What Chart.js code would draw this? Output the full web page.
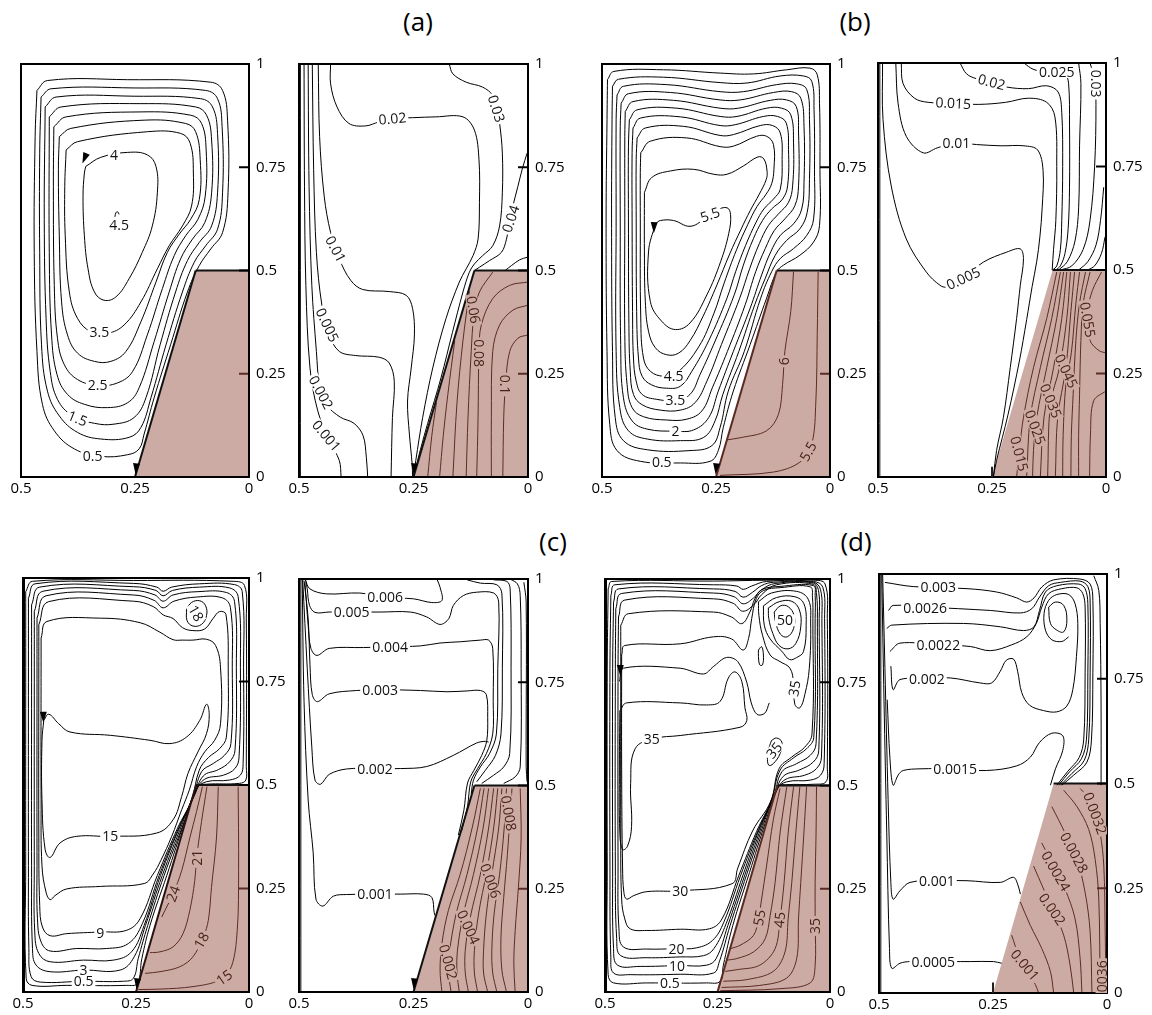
<!DOCTYPE html>
<html>
<head>
<meta charset="utf-8">
<script src="https://cdn.jsdelivr.net/npm/chart.js@4.4.1/dist/chart.umd.min.js"></script>
<style>
  html, body { margin: 0; padding: 0; background: #fff; }
  body { width: 1152px; height: 1015px; position: relative; overflow: hidden; font-family: 'Open Sans', sans-serif; }
  .tag { position: absolute; width: 60px; text-align: center; font-size: 26px; line-height: 30px; color: #000; }
</style>
</head>
<body>
<div class="tag" style="left:388px; top:6px;">(a)</div>
<div class="tag" style="left:825px; top:6px;">(b)</div>
<div class="tag" style="left:523px; top:526px;">(c)</div>
<div class="tag" style="left:826px; top:526px;">(d)</div>
<script>
// ---------- axes ----------
const X_TICKS = [0.5, 0.25, 0];
const X_TICK_LABELS = ['0.5', '0.25', '0'];
const Y_TICKS = [0, 0.25, 0.5, 0.75, 1];
const Y_TICK_LABELS = ['0', '0.25', '0.5', '0.75', '1'];
const Y_INNER_TICKS = [0.25, 0.5, 0.75];

// ---------- solid block (x, y pairs) ----------
const SOLID = [0.25,0, 0.117,0.5, 0,0.5, 0,0];
const SLOPE = [0.25,0, 0.117,0.5];
const TOP_EDGE = [0.117,0.5, 0,0.5];

// ---------- (a) left: streamlines ----------
const A1_LOOPS = [
  [0.465,0.936, 0.442,0.96, 0.266,0.962, 0.084,0.956, 0.058,0.936, 0.047,0.864, 0.046,0.688, 0.058,0.592, 0.084,0.552, 0.109,0.512, 0.135,0.448, 0.172,0.32, 0.208,0.192, 0.23,0.104, 0.241,0.068, 0.266,0.054, 0.325,0.05, 0.383,0.068, 0.427,0.112, 0.453,0.176, 0.465,0.304, 0.471,0.544, 0.469,0.824],
  [0.456,0.92, 0.434,0.94, 0.252,0.942, 0.095,0.936, 0.069,0.916, 0.059,0.848, 0.058,0.688, 0.069,0.6, 0.095,0.56, 0.12,0.52, 0.146,0.448, 0.182,0.32, 0.215,0.192, 0.237,0.12, 0.263,0.096, 0.325,0.092, 0.376,0.108, 0.416,0.148, 0.442,0.208, 0.455,0.32, 0.459,0.544, 0.459,0.784],
  [0.447,0.896, 0.423,0.92, 0.252,0.922, 0.106,0.916, 0.08,0.896, 0.069,0.832, 0.069,0.688, 0.082,0.608, 0.109,0.568, 0.135,0.524, 0.161,0.448, 0.195,0.32, 0.226,0.192, 0.252,0.144, 0.296,0.128, 0.339,0.13, 0.387,0.148, 0.42,0.188, 0.436,0.256, 0.445,0.384, 0.449,0.624],
  [0.438,0.872, 0.412,0.896, 0.237,0.904, 0.117,0.896, 0.093,0.876, 0.082,0.816, 0.082,0.688, 0.097,0.616, 0.124,0.576, 0.15,0.528, 0.175,0.448, 0.208,0.328, 0.241,0.216, 0.266,0.18, 0.31,0.168, 0.361,0.176, 0.398,0.2, 0.421,0.248, 0.433,0.344, 0.438,0.544],
  [0.428,0.848, 0.401,0.872, 0.237,0.884, 0.128,0.876, 0.104,0.856, 0.094,0.792, 0.096,0.68, 0.112,0.624, 0.139,0.584, 0.164,0.536, 0.19,0.456, 0.223,0.344, 0.255,0.256, 0.288,0.228, 0.332,0.222, 0.376,0.236, 0.405,0.272, 0.42,0.336, 0.427,0.464, 0.429,0.704],
  [0.416,0.824, 0.391,0.844, 0.23,0.864, 0.139,0.856, 0.117,0.836, 0.107,0.768, 0.109,0.672, 0.128,0.624, 0.153,0.588, 0.179,0.544, 0.204,0.472, 0.237,0.376, 0.27,0.304, 0.303,0.28, 0.339,0.28, 0.376,0.3, 0.398,0.344, 0.411,0.424, 0.416,0.584, 0.418,0.744],
  [0.401,0.792, 0.376,0.812, 0.223,0.836, 0.15,0.832, 0.129,0.808, 0.122,0.736, 0.126,0.656, 0.146,0.608, 0.175,0.56, 0.201,0.504, 0.237,0.424, 0.274,0.368, 0.31,0.348, 0.347,0.352, 0.376,0.384, 0.394,0.448, 0.403,0.584, 0.404,0.704],
  [0.358,0.752, 0.325,0.774, 0.266,0.786, 0.223,0.78, 0.204,0.752, 0.201,0.688, 0.212,0.608, 0.234,0.544, 0.263,0.48, 0.292,0.436, 0.318,0.428, 0.339,0.448, 0.353,0.504, 0.361,0.584, 0.364,0.68, 0.361,0.736]
];
const A1_LINES = [
  [0.294,0.63, 0.292,0.64, 0.288,0.642, 0.285,0.636]
];
const A1_LABELS = [['4',0.296,0.78,0], ['4.5',0.285,0.61,0], ['3.5',0.328,0.35,0], ['2.5',0.332,0.222,0], ['1.5',0.376,0.142,22], ['0.5',0.343,0.052,0]];
const A1_ARROWS = [[0.362,0.768,112], [0.248,0.016,95]];

// ---------- (a) right: concentration ----------
const A2_LINES = [
  [0.497,1, 0.497,0],
  [0.489,1, 0.488,0.704, 0.485,0.464, 0.476,0.264, 0.459,0.16, 0.434,0.088, 0.412,0.04, 0.408,0],
  [0.48,1, 0.478,0.704, 0.472,0.464, 0.462,0.304, 0.455,0.22, 0.44,0.175, 0.41,0.145, 0.38,0.13, 0.36,0.1, 0.353,0.048, 0.35,0],
  [0.471,1, 0.468,0.744, 0.462,0.544, 0.45,0.416, 0.434,0.344, 0.412,0.304, 0.376,0.294, 0.325,0.29, 0.303,0.276, 0.292,0.232, 0.296,0.144, 0.299,0],
  [0.458,1, 0.455,0.824, 0.445,0.68, 0.431,0.592, 0.412,0.528, 0.387,0.476, 0.361,0.454, 0.303,0.449, 0.266,0.44, 0.252,0.408, 0.248,0.344, 0.255,0.264, 0.263,0.184, 0.259,0.104, 0.253,0.032, 0.252,0],
  [0.431,1, 0.431,0.952, 0.417,0.896, 0.391,0.856, 0.355,0.85, 0.325,0.86, 0.296,0.868, 0.252,0.87, 0.201,0.872, 0.142,0.872, 0.117,0.84, 0.107,0.768, 0.106,0.664, 0.109,0.576, 0.12,0.536, 0.135,0.504, 0.15,0.472, 0.179,0.384, 0.208,0.264, 0.23,0.144, 0.245,0.04, 0.25,0],
  [0.172,1, 0.164,0.976, 0.135,0.956, 0.099,0.944, 0.077,0.924, 0.069,0.892, 0.062,0.856, 0.056,0.784, 0.056,0.688, 0.062,0.608, 0.077,0.56, 0.099,0.536, 0.117,0.516, 0.128,0.496, 0.142,0.448, 0.165,0.35, 0.19,0.24, 0.219,0.13, 0.234,0.07, 0.25,0],
  [0.002,0.784, 0.012,0.748, 0.022,0.704, 0.033,0.656, 0.04,0.62, 0.047,0.576, 0.058,0.544, 0.084,0.524, 0.106,0.508, 0.117,0.5],
  [0.002,0.532, 0.018,0.526, 0.036,0.512, 0.05,0.5]
];
const A2_SOLID = [
  [0.2,0.18, 0.21,0.1, 0.219,0],
  [0.16,0.33, 0.175,0.2, 0.185,0.1, 0.193,0],
  [0.128,0.45, 0.142,0.33, 0.155,0.18, 0.164,0],
  [0.077,0.496, 0.106,0.448, 0.118,0.392, 0.124,0.304, 0.131,0.144, 0.135,0],
  [0,0.472, 0.04,0.464, 0.077,0.432, 0.102,0.368, 0.107,0.304, 0.109,0.144, 0.112,0],
  [0,0.416, 0.033,0.404, 0.062,0.368, 0.077,0.304, 0.08,0.144, 0.08,0],
  [0,0.344, 0.022,0.336, 0.04,0.304, 0.049,0.224, 0.053,0.144, 0.055,0]
];
const A2_LABELS = [['0.02',0.296,0.868,-5], ['0.03',0.069,0.892,72], ['0.01',0.42,0.552,62], ['0.04',0.038,0.625,-72], ['0.005',0.438,0.368,65], ['0.002',0.452,0.205,62], ['0.001',0.44,0.1,50]];
const A2_SOLID_LABELS = [['0.06',0.119,0.405,80], ['0.08',0.107,0.3,90], ['0.1',0.051,0.224,90]];
const A2_ARROWS = [[0.249,0.016,95]];

// ---------- (b) left: streamlines ----------
const B1_LOOPS = [
  [0.488,0.962, 0.474,0.982, 0.365,0.986, 0.241,0.978, 0.168,0.976, 0.095,0.986, 0.044,0.99, 0.028,0.974, 0.023,0.905, 0.022,0.745, 0.023,0.609, 0.036,0.569, 0.066,0.537, 0.102,0.513, 0.117,0.497, 0.139,0.433, 0.175,0.321, 0.212,0.208, 0.234,0.12, 0.245,0.064, 0.263,0.038, 0.328,0.034, 0.416,0.038, 0.467,0.064, 0.483,0.128, 0.489,0.304, 0.491,0.625, 0.489,0.865],
  [0.477,0.946, 0.464,0.963, 0.365,0.968, 0.241,0.955, 0.182,0.954, 0.109,0.971, 0.058,0.971, 0.04,0.958, 0.035,0.889, 0.034,0.745, 0.036,0.625, 0.051,0.585, 0.08,0.553, 0.109,0.529, 0.128,0.497, 0.152,0.433, 0.188,0.304, 0.223,0.208, 0.241,0.12, 0.259,0.076, 0.307,0.064, 0.401,0.066, 0.453,0.088, 0.471,0.144, 0.477,0.304, 0.479,0.625, 0.478,0.865],
  [0.467,0.925, 0.453,0.946, 0.358,0.95, 0.241,0.933, 0.19,0.933, 0.117,0.95, 0.073,0.952, 0.051,0.938, 0.045,0.865, 0.045,0.721, 0.05,0.641, 0.066,0.601, 0.095,0.573, 0.12,0.537, 0.142,0.481, 0.165,0.417, 0.2,0.304, 0.235,0.2, 0.252,0.136, 0.277,0.096, 0.328,0.088, 0.401,0.092, 0.442,0.112, 0.461,0.168, 0.469,0.304, 0.469,0.625, 0.469,0.865],
  [0.458,0.905, 0.442,0.928, 0.35,0.931, 0.241,0.913, 0.197,0.913, 0.124,0.931, 0.084,0.933, 0.064,0.917, 0.057,0.849, 0.057,0.713, 0.062,0.649, 0.08,0.613, 0.109,0.585, 0.13,0.545, 0.15,0.489, 0.175,0.409, 0.212,0.304, 0.245,0.208, 0.266,0.144, 0.299,0.114, 0.339,0.111, 0.401,0.116, 0.434,0.136, 0.453,0.192, 0.459,0.321, 0.46,0.625, 0.46,0.849],
  [0.449,0.885, 0.432,0.909, 0.343,0.912, 0.241,0.893, 0.201,0.893, 0.131,0.912, 0.095,0.913, 0.074,0.897, 0.069,0.833, 0.069,0.705, 0.077,0.657, 0.099,0.625, 0.122,0.597, 0.142,0.553, 0.163,0.497, 0.186,0.417, 0.225,0.304, 0.258,0.216, 0.281,0.16, 0.314,0.14, 0.358,0.138, 0.409,0.146, 0.434,0.168, 0.445,0.224, 0.45,0.345, 0.45,0.625, 0.45,0.825],
  [0.44,0.865, 0.423,0.889, 0.336,0.893, 0.241,0.873, 0.204,0.873, 0.139,0.893, 0.106,0.893, 0.086,0.877, 0.08,0.809, 0.082,0.705, 0.091,0.665, 0.113,0.637, 0.135,0.609, 0.155,0.565, 0.176,0.505, 0.198,0.433, 0.238,0.321, 0.27,0.232, 0.296,0.18, 0.328,0.162, 0.372,0.162, 0.412,0.175, 0.431,0.2, 0.438,0.256, 0.441,0.369, 0.442,0.625, 0.442,0.801],
  [0.432,0.845, 0.416,0.869, 0.328,0.872, 0.241,0.851, 0.208,0.853, 0.146,0.873, 0.115,0.873, 0.096,0.857, 0.091,0.793, 0.093,0.705, 0.104,0.673, 0.128,0.649, 0.148,0.621, 0.168,0.577, 0.19,0.513, 0.21,0.441, 0.252,0.329, 0.285,0.248, 0.307,0.2, 0.339,0.186, 0.38,0.188, 0.412,0.2, 0.425,0.232, 0.431,0.288, 0.433,0.401, 0.434,0.625, 0.434,0.785],
  [0.423,0.821, 0.405,0.845, 0.321,0.849, 0.241,0.827, 0.212,0.829, 0.153,0.851, 0.126,0.851, 0.109,0.833, 0.105,0.769, 0.109,0.697, 0.124,0.673, 0.145,0.649, 0.162,0.617, 0.185,0.561, 0.207,0.497, 0.226,0.433, 0.266,0.33, 0.303,0.256, 0.328,0.22, 0.358,0.215, 0.391,0.223, 0.412,0.244, 0.42,0.288, 0.424,0.401, 0.425,0.625, 0.425,0.769],
  [0.415,0.785, 0.394,0.813, 0.314,0.821, 0.241,0.8, 0.212,0.801, 0.161,0.825, 0.139,0.825, 0.124,0.805, 0.123,0.745, 0.128,0.71, 0.14,0.685, 0.16,0.655, 0.18,0.612, 0.205,0.55, 0.232,0.47, 0.255,0.395, 0.288,0.315, 0.336,0.252, 0.365,0.244, 0.394,0.256, 0.409,0.288, 0.415,0.385, 0.416,0.625, 0.416,0.737],
  [0.407,0.689, 0.391,0.725, 0.35,0.741, 0.299,0.745, 0.255,0.733, 0.226,0.733, 0.19,0.753, 0.158,0.775, 0.145,0.77, 0.138,0.74, 0.14,0.72, 0.155,0.685, 0.175,0.645, 0.195,0.6, 0.22,0.54, 0.248,0.465, 0.278,0.39, 0.307,0.33, 0.332,0.3, 0.358,0.296, 0.383,0.313, 0.398,0.353, 0.405,0.425, 0.407,0.545],
  [0.383,0.613, 0.398,0.545, 0.394,0.425, 0.369,0.377, 0.339,0.357, 0.307,0.373, 0.27,0.441, 0.24,0.521, 0.222,0.59, 0.218,0.635, 0.226,0.652, 0.25,0.645, 0.275,0.625, 0.307,0.607, 0.343,0.621, 0.372,0.621]
];
const B1_SOLID = [
  [0.08,0.497, 0.086,0.401, 0.099,0.304, 0.104,0.224, 0.113,0.152, 0.139,0.112, 0.197,0.095, 0.226,0.09],
  [0.026,0.497, 0.028,0.345, 0.031,0.184, 0.04,0.08, 0.066,0.036, 0.124,0.012, 0.241,0.004]
];
const B1_LABELS = [['5.5',0.263,0.635,-20], ['4.5',0.343,0.244,0], ['3.5',0.339,0.187,0], ['2',0.339,0.112,0], ['0.5',0.369,0.036,0]];
const B1_SOLID_LABELS = [['6',0.1,0.28,-90], ['5.5',0.048,0.062,-60]];
const B1_ARROWS = [[0.386,0.6,92], [0.25,0.016,95]];

// ---------- (b) right: concentration ----------
const B2_LINES = [
  [0.496,1, 0.496,0],
  [0.49,1, 0.489,0.863, 0.471,0.703, 0.438,0.575, 0.394,0.495, 0.364,0.463, 0.35,0.459, 0.313,0.48, 0.269,0.519, 0.218,0.543, 0.188,0.551, 0.181,0.527, 0.188,0.463, 0.196,0.383, 0.21,0.264, 0.225,0.144, 0.24,0.064, 0.247,0],
  [0.461,1, 0.456,0.903, 0.438,0.823, 0.401,0.783, 0.37,0.795, 0.328,0.807, 0.284,0.803, 0.23,0.8, 0.18,0.8, 0.15,0.79, 0.138,0.74, 0.14,0.65, 0.145,0.58, 0.152,0.52, 0.162,0.46, 0.174,0.38, 0.19,0.28, 0.215,0.15, 0.24,0.04, 0.247,0],
  [0.449,1, 0.445,0.95, 0.42,0.915, 0.39,0.905, 0.335,0.903, 0.28,0.9, 0.22,0.905, 0.17,0.915, 0.13,0.905, 0.112,0.87, 0.108,0.75, 0.11,0.62, 0.115,0.55, 0.118,0.5],
  [0.32,1, 0.306,0.974, 0.284,0.962, 0.251,0.954, 0.218,0.942, 0.17,0.938, 0.13,0.945, 0.105,0.93, 0.097,0.88, 0.095,0.75, 0.097,0.62, 0.1,0.55, 0.108,0.51, 0.117,0.5],
  [0.18,1, 0.16,0.985, 0.13,0.978, 0.108,0.978, 0.09,0.975, 0.082,0.95, 0.08,0.85, 0.08,0.7, 0.083,0.6, 0.09,0.54, 0.1,0.51, 0.11,0.5],
  [0.06,1, 0.055,0.95, 0.058,0.8, 0.06,0.65, 0.068,0.57, 0.085,0.52, 0.104,0.5],
  [0.035,1, 0.025,0.96, 0.022,0.9, 0.025,0.75, 0.035,0.62, 0.05,0.55, 0.075,0.51, 0.1,0.5],
  [0.005,0.7, 0.012,0.62, 0.022,0.56, 0.04,0.52, 0.06,0.5],
  [0.002,0.58, 0.01,0.54, 0.025,0.51, 0.04,0.5]
];
const B2_SOLID = [
  [0.108,0.495, 0.13,0.383, 0.159,0.264, 0.181,0.144, 0.19,0.064, 0.196,0],
  [0.1,0.495, 0.119,0.383, 0.144,0.264, 0.166,0.144, 0.174,0],
  [0.093,0.495, 0.108,0.383, 0.13,0.264, 0.152,0.144, 0.159,0.064, 0.161,0],
  [0.086,0.495, 0.097,0.383, 0.115,0.264, 0.136,0.144, 0.144,0],
  [0.078,0.495, 0.086,0.383, 0.102,0.264, 0.122,0.176, 0.128,0],
  [0.069,0.495, 0.077,0.4, 0.088,0.264, 0.106,0.144, 0.111,0],
  [0.058,0.495, 0.066,0.42, 0.076,0.3, 0.088,0.224, 0.094,0.1, 0.095,0],
  [0.045,0.495, 0.058,0.42, 0.066,0.33, 0.072,0.2, 0.076,0.1, 0.077,0],
  [0.035,0.495, 0.05,0.42, 0.055,0.33, 0.058,0.2, 0.06,0.1, 0.06,0],
  [0.01,0.495, 0.03,0.45, 0.04,0.4, 0.035,0.33, 0.015,0.305, 0,0.3],
  [0,0.208, 0.027,0.184, 0.034,0.104, 0.036,0]
];
const B2_LABELS = [['0.02',0.251,0.954,15], ['0.025',0.108,0.978,0], ['0.03',0.023,0.95,90], ['0.015',0.335,0.903,3], ['0.01',0.328,0.807,0], ['0.005',0.313,0.48,-25]];
const B2_SOLID_LABELS = [['0.055',0.04,0.38,80], ['0.045',0.087,0.256,65], ['0.035',0.121,0.184,68], ['0.025',0.155,0.12,70], ['0.015',0.19,0.056,75]];
const B2_ARROWS = [];

// ---------- (c) left: streamlines ----------
const C1_LOOPS = [
  [0.494,0.967, 0.479,0.992, 0.256,0.994, 0.035,0.992, 0.01,0.982, 0.006,0.903, 0.006,0.544, 0.007,0.512, 0.021,0.504, 0.094,0.502, 0.113,0.497, 0.141,0.416, 0.182,0.281, 0.219,0.161, 0.237,0.081, 0.247,0.021, 0.271,0.016, 0.403,0.016, 0.48,0.016, 0.493,0.033, 0.494,0.305, 0.494,0.783],
  [0.488,0.951, 0.473,0.986, 0.256,0.987, 0.204,0.978, 0.19,0.968, 0.171,0.978, 0.109,0.986, 0.032,0.984, 0.015,0.967, 0.012,0.783, 0.013,0.552, 0.019,0.524, 0.043,0.512, 0.094,0.508, 0.116,0.49, 0.143,0.412, 0.188,0.281, 0.224,0.161, 0.245,0.081, 0.256,0.033, 0.278,0.026, 0.366,0.026, 0.462,0.024, 0.482,0.037, 0.487,0.105, 0.488,0.305, 0.488,0.783],
  [0.481,0.935, 0.463,0.978, 0.256,0.979, 0.206,0.97, 0.19,0.957, 0.169,0.97, 0.109,0.978, 0.043,0.976, 0.024,0.955, 0.019,0.783, 0.022,0.568, 0.031,0.54, 0.056,0.524, 0.098,0.514, 0.119,0.482, 0.147,0.408, 0.192,0.281, 0.229,0.161, 0.254,0.085, 0.285,0.053, 0.366,0.053, 0.44,0.049, 0.471,0.065, 0.479,0.105, 0.481,0.305, 0.481,0.783],
  [0.475,0.919, 0.456,0.968, 0.256,0.97, 0.208,0.959, 0.19,0.944, 0.168,0.959, 0.113,0.967, 0.05,0.965, 0.032,0.943, 0.028,0.783, 0.031,0.584, 0.043,0.556, 0.068,0.537, 0.101,0.522, 0.121,0.474, 0.151,0.404, 0.196,0.281, 0.232,0.161, 0.26,0.097, 0.3,0.077, 0.366,0.077, 0.44,0.073, 0.465,0.093, 0.474,0.145, 0.475,0.305, 0.475,0.783],
  [0.469,0.903, 0.449,0.957, 0.256,0.959, 0.21,0.946, 0.19,0.928, 0.166,0.944, 0.116,0.954, 0.059,0.952, 0.041,0.928, 0.037,0.783, 0.04,0.6, 0.054,0.572, 0.079,0.552, 0.105,0.532, 0.124,0.468, 0.154,0.4, 0.199,0.281, 0.236,0.165, 0.267,0.117, 0.315,0.105, 0.381,0.105, 0.44,0.099, 0.46,0.121, 0.468,0.177, 0.469,0.305, 0.469,0.783],
  [0.465,0.887, 0.443,0.943, 0.256,0.944, 0.212,0.931, 0.19,0.911, 0.168,0.902, 0.147,0.88, 0.124,0.873, 0.098,0.877, 0.079,0.903, 0.065,0.919, 0.051,0.912, 0.046,0.783, 0.05,0.616, 0.065,0.588, 0.09,0.566, 0.11,0.536, 0.127,0.464, 0.158,0.396, 0.203,0.281, 0.241,0.177, 0.271,0.149, 0.329,0.145, 0.403,0.141, 0.44,0.136, 0.457,0.157, 0.463,0.209, 0.465,0.384, 0.465,0.783],
  [0.46,0.855, 0.447,0.895, 0.329,0.903, 0.241,0.892, 0.197,0.869, 0.168,0.851, 0.147,0.85, 0.124,0.85, 0.094,0.852, 0.074,0.837, 0.063,0.783, 0.063,0.648, 0.076,0.608, 0.098,0.58, 0.116,0.544, 0.132,0.488, 0.149,0.44, 0.171,0.376, 0.195,0.318, 0.212,0.285, 0.232,0.262, 0.329,0.255, 0.403,0.249, 0.429,0.233, 0.44,0.223, 0.449,0.241, 0.458,0.305, 0.46,0.464, 0.46,0.783],
  [0.454,0.656, 0.443,0.671, 0.421,0.648, 0.396,0.628, 0.307,0.62, 0.219,0.608, 0.175,0.6, 0.138,0.616, 0.109,0.656, 0.094,0.695, 0.088,0.671, 0.094,0.624, 0.113,0.58, 0.135,0.528, 0.149,0.472, 0.168,0.416, 0.204,0.384, 0.307,0.376, 0.381,0.376, 0.418,0.36, 0.44,0.325, 0.451,0.344, 0.458,0.464, 0.458,0.608],
  [0.138,0.925, 0.127,0.941, 0.109,0.945, 0.096,0.933, 0.094,0.909, 0.105,0.888, 0.124,0.884, 0.137,0.897]
];
const C1_LINES = [
  [0.497,1, 0.497,0]
];
const C1_SOLID = [
  [0.103,0.496, 0.116,0.436, 0.131,0.372, 0.149,0.293, 0.168,0.237, 0.186,0.197, 0.193,0.181],
  [0.093,0.496, 0.105,0.412, 0.113,0.35, 0.116,0.324, 0.12,0.269, 0.131,0.197, 0.146,0.141, 0.168,0.109, 0.197,0.097, 0.219,0.095],
  [0.068,0.496, 0.072,0.372, 0.083,0.253, 0.09,0.173, 0.101,0.133, 0.124,0.085, 0.153,0.061, 0.197,0.049, 0.23,0.045],
  [0.024,0.496, 0.023,0.293, 0.026,0.149, 0.039,0.061, 0.065,0.029, 0.124,0.013, 0.197,0.007, 0.245,0.006]
];
const C1_LABELS = [['18',0.117,0.915,60], ['15',0.307,0.376,0], ['9',0.329,0.143,0], ['3',0.366,0.053,0], ['0.5',0.366,0.026,0]];
const C1_SOLID_LABELS = [['21',0.115,0.324,-90], ['24',0.168,0.237,-70], ['18',0.105,0.125,-60], ['15',0.055,0.035,-35]];
const C1_ARROWS = [[0.455,0.66,90], [0.248,0.016,95]];

// ---------- (c) right: concentration ----------
const C2_LINES = [
  [0.496,1, 0.496,0],
  [0.493,1, 0.489,0.704, 0.48,0.465, 0.469,0.337, 0.463,0.225, 0.448,0.208, 0.425,0.232, 0.396,0.236, 0.334,0.237, 0.279,0.237, 0.228,0.237, 0.21,0.229, 0.205,0.193, 0.203,0.185],
  [0.492,1, 0.482,0.784, 0.472,0.593, 0.465,0.513, 0.453,0.503, 0.434,0.527, 0.396,0.54, 0.334,0.541, 0.279,0.541, 0.221,0.546, 0.163,0.573, 0.112,0.603, 0.093,0.607, 0.086,0.605],
  [0.489,0.996, 0.48,0.904, 0.476,0.792, 0.471,0.72, 0.46,0.703, 0.434,0.722, 0.374,0.73, 0.323,0.732, 0.235,0.73, 0.177,0.727, 0.133,0.729, 0.104,0.73, 0.091,0.72, 0.088,0.665, 0.09,0.609, 0.101,0.573, 0.118,0.537, 0.132,0.506, 0.14,0.44, 0.152,0.38],
  [0.487,0.992, 0.48,0.888, 0.474,0.832, 0.461,0.815, 0.434,0.832, 0.359,0.834, 0.301,0.836, 0.235,0.838, 0.192,0.845, 0.148,0.848, 0.104,0.852, 0.086,0.852, 0.077,0.832, 0.076,0.704, 0.077,0.625, 0.091,0.577, 0.11,0.541, 0.125,0.509, 0.132,0.45, 0.145,0.39],
  [0.485,0.996, 0.482,0.976, 0.477,0.936, 0.465,0.919, 0.434,0.92, 0.385,0.92, 0.323,0.92, 0.257,0.92, 0.221,0.908, 0.192,0.89, 0.173,0.904, 0.163,0.936, 0.141,0.96, 0.112,0.968, 0.075,0.966, 0.064,0.944, 0.066,0.784, 0.069,0.625, 0.084,0.577, 0.104,0.545, 0.119,0.513, 0.124,0.48],
  [0.487,1, 0.476,0.976, 0.44,0.964, 0.367,0.966, 0.308,0.955, 0.25,0.952, 0.21,0.943, 0.188,0.948, 0.192,0.98, 0.199,1],
  [0.133,0.998, 0.104,0.99, 0.068,0.986, 0.057,0.964, 0.056,0.784, 0.059,0.625, 0.071,0.573, 0.093,0.537, 0.112,0.509],
  [0.075,0.998, 0.046,0.994, 0.039,0.976, 0.037,0.784, 0.04,0.577, 0.053,0.545, 0.075,0.525, 0.101,0.505],
  [0.039,1, 0.023,0.988, 0.017,0.96, 0.015,0.784, 0.017,0.545, 0.028,0.521, 0.053,0.505],
  [0.009,0.992, 0.004,0.944, 0.004,0.545, 0.002,0.509]
];
const C2_SOLID = [
  [0.104,0.493, 0.122,0.397, 0.148,0.285, 0.174,0.197, 0.188,0.117, 0.192,0.053, 0.188,0],
  [0.096,0.493, 0.11,0.397, 0.133,0.285, 0.157,0.189, 0.171,0.101, 0.174,0.053, 0.168,0],
  [0.086,0.493, 0.098,0.397, 0.119,0.285, 0.141,0.189, 0.154,0.101, 0.155,0.046, 0.15,0],
  [0.075,0.493, 0.086,0.397, 0.104,0.285, 0.126,0.181, 0.137,0.101, 0.137,0.046, 0.13,0],
  [0.066,0.493, 0.075,0.397, 0.09,0.293, 0.108,0.189, 0.117,0.101, 0.117,0.046, 0.11,0],
  [0.057,0.493, 0.064,0.397, 0.079,0.285, 0.091,0.189, 0.097,0.101, 0.097,0.046, 0.088,0],
  [0.047,0.493, 0.052,0.397, 0.062,0.285, 0.074,0.189, 0.079,0.101, 0.077,0.046, 0.068,0],
  [0.035,0.493, 0.039,0.429, 0.045,0.333, 0.053,0.229, 0.059,0.133, 0.057,0.053, 0.047,0],
  [0.017,0.493, 0.015,0.373, 0.021,0.253, 0.028,0.149, 0.031,0.069, 0.028,0]
];
const C2_LABELS = [['0.006',0.312,0.956,0], ['0.005',0.385,0.92,0], ['0.004',0.301,0.836,0], ['0.003',0.323,0.732,0], ['0.002',0.334,0.541,0], ['0.001',0.334,0.237,0]];
const C2_SOLID_LABELS = [['0.008',0.042,0.433,80], ['0.006',0.082,0.269,70], ['0.004',0.13,0.157,65], ['0.002',0.174,0.073,75]];
const C2_ARROWS = [[0.249,0.016,95]];

// ---------- (d) left: streamlines ----------
const D1_LOOPS = [
  [0.493,0.976, 0.485,0.994, 0.259,0.995, 0.141,0.997, 0.037,0.997, 0.011,0.988, 0.006,0.904, 0.006,0.545, 0.009,0.509, 0.037,0.503, 0.096,0.502, 0.115,0.497, 0.144,0.409, 0.179,0.289, 0.216,0.161, 0.237,0.065, 0.244,0.026, 0.274,0.022, 0.407,0.022, 0.481,0.022, 0.493,0.042, 0.495,0.305, 0.495,0.784],
  [0.487,0.96, 0.478,0.986, 0.259,0.986, 0.207,0.983, 0.193,0.975, 0.174,0.983, 0.141,0.994, 0.037,0.994, 0.016,0.98, 0.012,0.904, 0.013,0.553, 0.021,0.525, 0.044,0.513, 0.096,0.509, 0.119,0.49, 0.148,0.405, 0.185,0.285, 0.222,0.161, 0.246,0.073, 0.259,0.046, 0.333,0.043, 0.444,0.042, 0.481,0.046, 0.487,0.083, 0.489,0.305, 0.489,0.784],
  [0.481,0.944, 0.47,0.976, 0.259,0.976, 0.211,0.97, 0.193,0.956, 0.172,0.968, 0.152,0.984, 0.126,0.992, 0.037,0.992, 0.021,0.974, 0.018,0.904, 0.019,0.569, 0.03,0.541, 0.056,0.525, 0.1,0.514, 0.121,0.482, 0.152,0.401, 0.19,0.281, 0.227,0.161, 0.253,0.081, 0.274,0.065, 0.333,0.064, 0.422,0.062, 0.472,0.065, 0.481,0.105, 0.483,0.305, 0.483,0.784],
  [0.476,0.928, 0.463,0.965, 0.259,0.966, 0.213,0.957, 0.193,0.94, 0.17,0.954, 0.152,0.974, 0.122,0.989, 0.037,0.99, 0.025,0.968, 0.024,0.904, 0.025,0.585, 0.037,0.557, 0.067,0.538, 0.104,0.522, 0.124,0.474, 0.156,0.397, 0.194,0.281, 0.231,0.165, 0.258,0.105, 0.281,0.088, 0.333,0.085, 0.407,0.083, 0.465,0.088, 0.474,0.129, 0.477,0.305, 0.477,0.784],
  [0.47,0.908, 0.456,0.949, 0.259,0.952, 0.215,0.941, 0.194,0.922, 0.169,0.938, 0.152,0.962, 0.119,0.986, 0.037,0.987, 0.03,0.964, 0.028,0.904, 0.031,0.601, 0.044,0.573, 0.074,0.553, 0.107,0.533, 0.126,0.469, 0.159,0.393, 0.199,0.281, 0.236,0.169, 0.261,0.125, 0.296,0.107, 0.341,0.105, 0.407,0.104, 0.459,0.109, 0.469,0.153, 0.471,0.305, 0.471,0.784],
  [0.465,0.888, 0.448,0.916, 0.259,0.92, 0.219,0.908, 0.196,0.892, 0.178,0.92, 0.167,0.952, 0.152,0.974, 0.111,0.982, 0.037,0.984, 0.033,0.96, 0.033,0.904, 0.036,0.617, 0.052,0.589, 0.081,0.567, 0.111,0.537, 0.13,0.465, 0.163,0.389, 0.203,0.281, 0.24,0.177, 0.268,0.153, 0.333,0.152, 0.407,0.149, 0.444,0.153, 0.456,0.177, 0.463,0.225, 0.465,0.385, 0.465,0.784],
  [0.463,0.816, 0.456,0.839, 0.333,0.843, 0.259,0.86, 0.219,0.855, 0.193,0.828, 0.181,0.856, 0.174,0.904, 0.164,0.952, 0.148,0.972, 0.111,0.979, 0.044,0.981, 0.039,0.956, 0.038,0.904, 0.04,0.625, 0.056,0.593, 0.085,0.569, 0.113,0.541, 0.132,0.461, 0.172,0.39, 0.205,0.3, 0.218,0.262, 0.333,0.245, 0.407,0.243, 0.437,0.233, 0.452,0.225, 0.458,0.241, 0.461,0.305, 0.463,0.545],
  [0.467,0.681, 0.452,0.7, 0.333,0.7, 0.274,0.695, 0.244,0.704, 0.226,0.76, 0.211,0.775, 0.196,0.752, 0.189,0.688, 0.185,0.657, 0.2,0.641, 0.333,0.621, 0.393,0.613, 0.433,0.589, 0.443,0.505, 0.441,0.401, 0.45,0.353, 0.461,0.345, 0.467,0.385, 0.468,0.545],
  [0.159,0.945, 0.13,0.966, 0.074,0.97, 0.048,0.95, 0.043,0.896, 0.046,0.784, 0.056,0.72, 0.067,0.688, 0.078,0.696, 0.081,0.748, 0.089,0.784, 0.111,0.8, 0.133,0.816, 0.15,0.864, 0.158,0.912],
  [0.148,0.935, 0.119,0.955, 0.078,0.957, 0.058,0.94, 0.053,0.888, 0.059,0.824, 0.074,0.81, 0.09,0.805, 0.107,0.825, 0.133,0.855, 0.146,0.888],
  [0.137,0.93, 0.113,0.945, 0.085,0.946, 0.068,0.925, 0.065,0.884, 0.076,0.844, 0.093,0.831, 0.113,0.839, 0.127,0.868, 0.136,0.904],
  [0.124,0.92, 0.11,0.935, 0.093,0.933, 0.08,0.912, 0.081,0.88, 0.095,0.86, 0.11,0.866, 0.121,0.896],
  [0.159,0.828, 0.152,0.836, 0.148,0.816, 0.15,0.792, 0.156,0.792, 0.159,0.812],
  [0.13,0.609, 0.119,0.615, 0.107,0.605, 0.111,0.577, 0.126,0.553, 0.136,0.549, 0.139,0.569, 0.135,0.593]
];
const D1_LINES = [
  [0.497,1, 0.497,0],
  [0.468,0.752, 0.459,0.784, 0.333,0.784, 0.281,0.77, 0.259,0.788, 0.23,0.81, 0.205,0.8, 0.185,0.75, 0.175,0.7, 0.162,0.672, 0.145,0.675, 0.135,0.7]
];
const D1_SOLID = [
  [0.111,0.493, 0.126,0.417, 0.141,0.305, 0.152,0.225, 0.159,0.177, 0.17,0.137, 0.2,0.113, 0.221,0.105],
  [0.096,0.497, 0.111,0.385, 0.122,0.265, 0.133,0.185, 0.144,0.129, 0.17,0.097, 0.207,0.081, 0.23,0.077],
  [0.081,0.497, 0.093,0.385, 0.102,0.265, 0.111,0.177, 0.122,0.105, 0.156,0.065, 0.207,0.054, 0.233,0.05],
  [0.067,0.497, 0.076,0.385, 0.085,0.265, 0.093,0.177, 0.1,0.097, 0.126,0.05, 0.185,0.03, 0.237,0.026],
  [0.052,0.497, 0.058,0.385, 0.065,0.265, 0.07,0.177, 0.074,0.081, 0.096,0.034, 0.156,0.016, 0.241,0.011],
  [0.03,0.497, 0.031,0.385, 0.033,0.265, 0.033,0.165, 0.033,0.065, 0.044,0.022, 0.111,0.008, 0.244,0.003]
];
const D1_LABELS = [['50',0.1,0.9,0], ['35',0.079,0.735,-80], ['35',0.124,0.585,-50], ['35',0.396,0.613,0], ['30',0.333,0.245,0], ['20',0.341,0.105,0], ['10',0.34,0.064,0], ['0.5',0.356,0.022,0]];
const D1_SOLID_LABELS = [['55',0.157,0.18,-80], ['45',0.112,0.175,-85], ['35',0.033,0.16,-90]];
const D1_ARROWS = [[0.466,0.775,90]];

// ---------- (d) right: concentration ----------
const D2_LINES = [
  [0.496,1, 0.496,0],
  [0.487,0.98, 0.425,0.97, 0.307,0.965, 0.242,0.957, 0.198,0.943, 0.176,0.933, 0.16,0.943, 0.143,0.969, 0.117,0.986, 0.059,0.988, 0.037,0.976, 0.031,0.937, 0.031,0.764, 0.034,0.606, 0.044,0.551, 0.073,0.52, 0.099,0.496],
  [0.479,0.913, 0.469,0.925, 0.395,0.921, 0.256,0.913, 0.19,0.907, 0.165,0.917, 0.148,0.945, 0.128,0.972, 0.102,0.98, 0.059,0.983, 0.042,0.97, 0.037,0.933, 0.037,0.764, 0.04,0.606, 0.05,0.555, 0.077,0.524, 0.102,0.496],
  [0.483,0.87, 0.472,0.878, 0.315,0.882, 0.234,0.874, 0.183,0.865, 0.16,0.874, 0.148,0.913, 0.135,0.957, 0.11,0.972, 0.062,0.976, 0.048,0.965, 0.042,0.929, 0.042,0.764, 0.045,0.606, 0.056,0.559, 0.082,0.528, 0.106,0.496],
  [0.476,0.815, 0.454,0.835, 0.37,0.831, 0.3,0.827, 0.256,0.817, 0.209,0.831, 0.176,0.85, 0.155,0.882, 0.143,0.921, 0.128,0.953, 0.099,0.965, 0.066,0.967, 0.053,0.953, 0.048,0.921, 0.048,0.764, 0.051,0.606, 0.061,0.562, 0.086,0.529, 0.11,0.496],
  [0.474,0.78, 0.469,0.724, 0.454,0.748, 0.395,0.75, 0.344,0.752, 0.278,0.74, 0.253,0.74, 0.234,0.768, 0.221,0.794, 0.205,0.797, 0.196,0.768, 0.187,0.717, 0.17,0.687, 0.139,0.674, 0.11,0.671, 0.088,0.685, 0.075,0.724, 0.067,0.803, 0.064,0.882, 0.07,0.929, 0.084,0.951, 0.11,0.951, 0.128,0.937, 0.138,0.906, 0.135,0.866, 0.121,0.843, 0.099,0.839, 0.084,0.85],
  [0.482,0.7, 0.476,0.56, 0.469,0.496, 0.458,0.52, 0.447,0.531, 0.41,0.535, 0.337,0.535, 0.264,0.531, 0.198,0.542, 0.168,0.563, 0.148,0.598, 0.121,0.62, 0.097,0.614, 0.097,0.579, 0.113,0.535, 0.124,0.496],
  [0.492,1, 0.487,0.776, 0.48,0.461, 0.474,0.264, 0.469,0.224, 0.454,0.244, 0.432,0.264, 0.373,0.268, 0.307,0.268, 0.234,0.264, 0.205,0.276, 0.196,0.26, 0.19,0.236],
  [0.494,1, 0.489,0.697, 0.483,0.382, 0.477,0.106, 0.472,0.059, 0.454,0.071, 0.432,0.075, 0.381,0.075, 0.3,0.075, 0.249,0.075, 0.231,0.071],
  [0.029,0.996, 0.018,0.961, 0.015,0.882, 0.013,0.685, 0.013,0.496]
];
const D2_LOOPS = [
  [0.128,0.921, 0.113,0.933, 0.095,0.925, 0.088,0.89, 0.095,0.862, 0.11,0.866, 0.124,0.882]
];
const D2_SOLID = [
  [0.209,0.138, 0.194,0.091, 0.176,0.055, 0.157,0.02, 0.15,0],
  [0.19,0.217, 0.168,0.161, 0.143,0.106, 0.124,0.051, 0.117,0],
  [0.161,0.303, 0.139,0.248, 0.117,0.193, 0.095,0.138, 0.081,0.067, 0.073,0],
  [0.143,0.358, 0.117,0.303, 0.092,0.248, 0.07,0.177, 0.059,0.083, 0.055,0],
  [0.121,0.445, 0.092,0.382, 0.066,0.319, 0.048,0.24, 0.037,0.146, 0.033,0],
  [0.095,0.484, 0.066,0.445, 0.04,0.39, 0.026,0.319, 0.018,0.224, 0.015,0],
  [0.059,0.488, 0.037,0.461, 0.026,0.429, 0.015,0.382, 0.007,0.303, 0.004,0.146, 0.002,0]
];
const D2_SOLID_LOOPS = [
  [0.046,0.476, 0.04,0.481, 0.034,0.476, 0.04,0.471]
];
const D2_LABELS = [['0.003',0.37,0.968,0], ['0.0026',0.399,0.918,0], ['0.0022',0.37,0.83,0], ['0.002',0.395,0.75,0], ['0.0015',0.333,0.534,0], ['0.001',0.373,0.268,0], ['0.0005',0.381,0.075,0]];
const D2_SOLID_LABELS = [['0.0032',0.026,0.429,70], ['0.0028',0.072,0.335,62], ['0.0024',0.112,0.291,60], ['0.002',0.12,0.2,55], ['0.001',0.18,0.067,50], ['0.0036',0.012,0.026,-90]];
const D2_ARROWS = [];

// ---------- styling ----------
const SHADE = '#ccaba4';
const SOLID_LINE = '#5b2c25';
const SOLID_TEXT = '#4a221c';
const FONT = "'Open Sans', 'DejaVu Sans', sans-serif";

// plot rectangles in page pixels: left, top, width, height
const PANELS = [
  { rect: [21, 60, 228, 417],  loops: A1_LOOPS, lines: A1_LINES, solid: [], labels: A1_LABELS, solidLabels: [], arrows: A1_ARROWS, slope: '#111', leftW: 2 },
  { rect: [299, 60, 229, 417], loops: [], lines: A2_LINES, solid: A2_SOLID, labels: A2_LABELS, solidLabels: A2_SOLID_LABELS, arrows: A2_ARROWS, slope: '#111', leftW: 2 },
  { rect: [602, 60, 228, 417], loops: B1_LOOPS, lines: [], solid: B1_SOLID, labels: B1_LABELS, solidLabels: B1_SOLID_LABELS, arrows: B1_ARROWS, slope: '#5a2a22', leftW: 2 },
  { rect: [878, 59, 228, 418], loops: [], lines: B2_LINES, solid: B2_SOLID, labels: B2_LABELS, solidLabels: B2_SOLID_LABELS, arrows: B2_ARROWS, slope: null, leftW: 2, bar: true },
  { rect: [23, 574, 226, 418], loops: C1_LOOPS, lines: C1_LINES, solid: C1_SOLID, labels: C1_LABELS, solidLabels: C1_SOLID_LABELS, arrows: C1_ARROWS, slope: '#2a1210', leftW: 3 },
  { rect: [299, 575, 229, 417], loops: [], lines: C2_LINES, solid: C2_SOLID, labels: C2_LABELS, solidLabels: C2_SOLID_LABELS, arrows: C2_ARROWS, slope: '#111', leftW: 2 },
  { rect: [605, 575, 225, 417], loops: D1_LOOPS, lines: D1_LINES, solid: D1_SOLID, labels: D1_LABELS, solidLabels: D1_SOLID_LABELS, arrows: D1_ARROWS, slope: '#5a2a22', leftW: 3 },
  { rect: [879, 570, 228, 423], loops: D2_LOOPS, lines: D2_LINES, solid: D2_SOLID, solidLoops: D2_SOLID_LOOPS, labels: D2_LABELS, solidLabels: D2_SOLID_LABELS, arrows: D2_ARROWS, slope: null, leftW: 2, bar: true }
];

function toPoints(flat, closed) {
  const pts = [];
  for (let i = 0; i < flat.length; i += 2) pts.push({ x: flat[i], y: flat[i + 1] });
  if (closed) pts.push({ x: flat[0], y: flat[1] });
  return pts;
}

function lineSet(flat, color, width, order, closed, tension) {
  return {
    data: toPoints(flat, closed), showLine: true, fill: false,
    borderColor: color, borderWidth: width, pointRadius: 0,
    tension: tension === undefined ? (closed ? 0.4 : 0.35) : tension, order: order
  };
}

function overlayPlugin(p) {
  return {
    id: 'overlay',
    afterDatasetsDraw(chart) {
      const ctx = chart.ctx, a = chart.chartArea, xs = chart.scales.x, ys = chart.scales.y;
      ctx.save();
      // inward ticks on the right wall
      ctx.lineWidth = 2;
      Y_INNER_TICKS.forEach(v => {
        const py = ys.getPixelForValue(v);
        ctx.strokeStyle = v < 0.5 ? SOLID_LINE : '#000';
        ctx.beginPath(); ctx.moveTo(a.right, py); ctx.lineTo(a.right - 10, py); ctx.stroke();
      });
      // frame
      ctx.strokeStyle = '#000';
      ctx.lineWidth = 2;
      ctx.strokeRect(a.left, a.top, a.right - a.left, a.bottom - a.top);
      ctx.lineWidth = p.leftW;
      ctx.beginPath(); ctx.moveTo(a.left + p.leftW / 2 - 1, a.top); ctx.lineTo(a.left + p.leftW / 2 - 1, a.bottom); ctx.stroke();
      // small marker at the foot of the slope
      if (p.bar) {
        const bx = xs.getPixelForValue(0.25);
        ctx.lineWidth = 2; ctx.strokeStyle = '#222';
        ctx.beginPath(); ctx.moveTo(bx, a.bottom); ctx.lineTo(bx, ys.getPixelForValue(0.025)); ctx.stroke();
      }
      // flow direction arrows
      ctx.fillStyle = '#000';
      p.arrows.forEach(([vx, vy, deg]) => {
        const px = xs.getPixelForValue(vx), py = ys.getPixelForValue(vy);
        ctx.save(); ctx.translate(px, py); ctx.rotate(deg * Math.PI / 180);
        ctx.beginPath(); ctx.moveTo(4, 0); ctx.lineTo(-7, -3.5); ctx.lineTo(-7, 3.5); ctx.closePath(); ctx.fill();
        ctx.restore();
      });
      // contour labels
      ctx.beginPath(); ctx.rect(a.left, a.top, a.right - a.left, a.bottom - a.top); ctx.clip();
      ctx.font = '14px ' + FONT;
      ctx.textAlign = 'center'; ctx.textBaseline = 'middle';
      const put = (list, bg, fg) => list.forEach(([t, vx, vy, deg]) => {
        const px = xs.getPixelForValue(vx), py = ys.getPixelForValue(vy);
        ctx.save(); ctx.translate(px, py); ctx.rotate(deg * Math.PI / 180);
        const w = ctx.measureText(t).width;
        ctx.fillStyle = bg; ctx.fillRect(-w / 2 - 2, -6, w + 4, 12);
        ctx.fillStyle = fg; ctx.fillText(t, 0, 1);
        ctx.restore();
      });
      put(p.labels, '#fff', '#111');
      put(p.solidLabels, SHADE, SOLID_TEXT);
      ctx.restore();
    }
  };
}

const PADL = 30, PADT = 12, AXR = 48, AXB = 32;
PANELS.forEach(p => {
  const [L, T, W, H] = p.rect;
  const cv = document.createElement('canvas');
  cv.width = W + PADL + AXR; cv.height = H + PADT + AXB;
  cv.style.cssText = 'position:absolute;left:' + (L - PADL) + 'px;top:' + (T - PADT) + 'px;width:' + cv.width + 'px;height:' + cv.height + 'px;';
  document.body.appendChild(cv);

  const ds = [];
  ds.push({ data: toPoints(SOLID, true), showLine: true, fill: 'shape', backgroundColor: SHADE, borderColor: SHADE, borderWidth: 0, pointRadius: 0, tension: 0, order: 100 });
  p.solid.forEach(l => ds.push(lineSet(l, SOLID_LINE, 1, 50)));
  (p.solidLoops || []).forEach(l => ds.push(lineSet(l, SOLID_LINE, 1, 50, true)));
  p.loops.forEach(l => ds.push(lineSet(l, '#000', 1, 20, true)));
  p.lines.forEach(l => ds.push(lineSet(l, '#000', 1, 20)));
  if (p.slope) ds.push(lineSet(SLOPE, p.slope, 2, 5, false, 0));
  ds.push(lineSet(TOP_EDGE, '#111', 2, 5, false, 0));

  new Chart(cv, {
    type: 'scatter',
    data: { datasets: ds },
    options: {
      responsive: false, animation: false, devicePixelRatio: 1, events: [],
      layout: { padding: { left: PADL, top: PADT, right: 0, bottom: 0 } },
      plugins: { legend: { display: false }, tooltip: { enabled: false } },
      scales: {
        x: {
          type: 'linear', reverse: true, min: 0, max: 0.5, position: 'bottom',
          grid: { display: false, drawTicks: false }, border: { display: false },
          afterBuildTicks: s => { s.ticks = X_TICKS.map(v => ({ value: v })); },
          afterFit: s => { s.height = AXB; },
          ticks: { padding: 3, color: '#000', autoSkip: false, maxRotation: 0, font: { family: FONT, size: 15 },
                   callback: (v, i) => X_TICK_LABELS[i] }
        },
        y: {
          type: 'linear', position: 'right', min: 0, max: 1,
          grid: { display: false, drawTicks: false }, border: { display: false },
          afterBuildTicks: s => { s.ticks = Y_TICKS.map(v => ({ value: v })); },
          afterFit: s => { s.width = AXR; },
          ticks: { padding: 7, color: '#000', autoSkip: false, font: { family: FONT, size: 15 },
                   callback: (v, i) => Y_TICK_LABELS[i] }
        }
      }
    },
    plugins: [overlayPlugin(p)]
  });
});
</script>
</body>
</html>
